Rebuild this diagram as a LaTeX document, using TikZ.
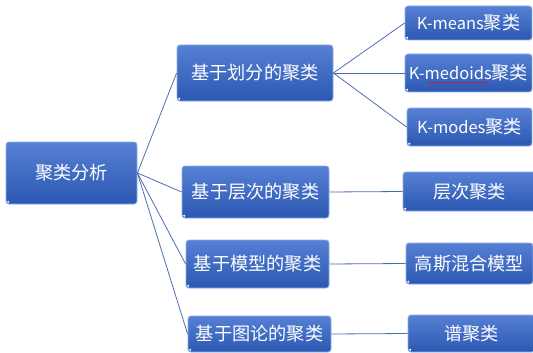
\documentclass[tikz,border=0pt]{standalone}
\usepackage{fontspec}
\setmainfont{Noto Sans CJK SC}
\definecolor{boxtop}{RGB}{86,128,212}
\definecolor{boxbot}{RGB}{44,88,178}
\definecolor{boxedge}{RGB}{140,174,232}
\definecolor{linkcol}{RGB}{78,110,180}
\newcommand{\lat}[1]{{\fontsize{16.5}{20}\selectfont #1}}
\tikzset{
  box/.style={draw=boxedge, line width=0.8pt, rounded corners=3pt,
    top color=boxtop, bottom color=boxbot, inner sep=0pt,
    text=white, font=\fontsize{18.2}{21}\selectfont,
    path picture={\fill[white] ([xshift=2.2pt,yshift=2.2pt]path picture bounding box.south west) circle (1.1pt);}},
  link/.style={draw=linkcol, line width=0.8pt}
}
\begin{document}
\begin{tikzpicture}[x=1pt,y=-1pt]
\clip (0,0) rectangle (533,353);
\fill[white] (0,0) rectangle (533,353);
% root
\node[box, minimum width=131pt, minimum height=62pt] (root) at (71.5,173) {聚类分析};
% level 1
\node[box, minimum width=156pt, minimum height=56pt] (part) at (255,73) {基于划分的聚类};
\node[box, minimum width=147pt, minimum height=52pt] (hier) at (255.5,192) {基于层次的聚类};
\node[box, minimum width=143pt, minimum height=48pt] (model) at (257.5,264) {基于模型的聚类};
\node[box, minimum width=143pt, minimum height=36pt] (graph) at (259.5,334) {基于图论的聚类};
% level 2
\node[box, minimum width=127pt, minimum height=34pt] (kmeans) at (468.5,23) {\lat{K-means}聚类};
\node[box, minimum width=127pt, minimum height=38pt] (kmedoids) at (468.5,73) {\lat{K-medoids}聚类};
\node[box, minimum width=125pt, minimum height=38pt] (kmodes) at (469.5,127) {\lat{K-modes}聚类};
\node[box, minimum width=133pt, minimum height=39pt] (hc) at (469.5,191.5) {层次聚类};
\node[box, minimum width=127pt, minimum height=41pt] (gmm) at (469.5,263.5) {高斯混合模型};
\node[box, minimum width=127pt, minimum height=37pt] (spec) at (471.5,333.5) {谱聚类};
% connectors
\draw[link] (root.east) -- (part.west);
\draw[link] (root.east) -- (hier.west);
\draw[link] (root.east) -- (model.west);
\draw[link] (root.east) -- (graph.west);
\draw[link] (part.east) -- (kmeans.west);
\draw[link] (part.east) -- (kmedoids.west);
\draw[link] (part.east) -- (kmodes.west);
\draw[link] (hier.east) -- (hc.west);
\draw[link] (model.east) -- (gmm.west);
\draw[link] (graph.east) -- (spec.west);
% spell-check squiggle
\draw[red, line width=0.6pt] plot[smooth, domain=0:60, samples=61] ({428+\x},{82+0.8*sin(\x*180)});
\end{tikzpicture}
\end{document}
